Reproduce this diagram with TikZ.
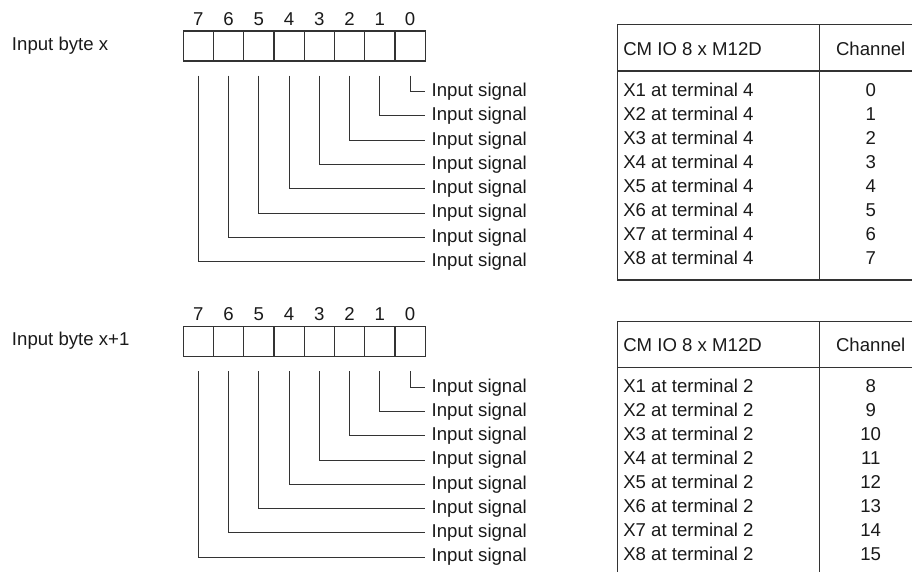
\documentclass[tikz,border=0pt]{standalone}
\usepackage{fontspec}
\setmainfont{Liberation Sans}
\definecolor{ln}{HTML}{333333}
\definecolor{txt}{HTML}{1A1A1A}
\tikzset{
  lbl/.style={inner sep=0pt,outer sep=0pt,font=\fontsize{18.6}{22}\selectfont,text=txt},
  cellbox/.style={draw=ln,line width=1.1pt,minimum width=30.25pt,minimum height=30pt,inner sep=0pt},
  wire/.style={draw=ln,line width=1pt},
  tab/.style={draw=ln,line width=1.2pt}
}
\newcommand\bytesection[3]{% #1 prefix, #2 y offset of byte, #3 label
  \begin{scope}[shift={(0,#2)}]
    \node[lbl,anchor=base west] (#1lab) at (12,50) {#3};
    \foreach \i in {0,...,7}{
      \pgfmathtruncatemacro\bit{7-\i}
      \node[cellbox] (#1c\bit) at (198.4+30.25*\i,46) {};
      \node[lbl,anchor=base] (#1d\bit) at (198.4+30.25*\i,25) {\bit};
    }
    \foreach \b in {0,...,7}{
      \node[lbl,anchor=base west] (#1s\b) at (431.7,96.5+24.28*\b) {Input signal};
      \draw[wire] ([yshift=-14pt]#1c\b.south) |- ([xshift=-6.7pt]#1s\b.west);
    }
  \end{scope}
}
\newcommand\tablesection[2]{% #1 prefix, #2 y offset
  \begin{scope}[shift={(0,#2)}]
    \draw[tab] (617.3,24.3) rectangle (940,280);
    \draw[tab] (617.3,71) -- (940,71);
    \draw[tab] (819.3,24.3) -- (819.3,280);
    \node[lbl,anchor=base west] (#1h1) at (623.3,55) {CM IO 8 x M12D};
    \node[lbl,anchor=base] (#1h2) at (870.7,55) {Channel};
  \end{scope}
}
\begin{document}
\begin{tikzpicture}[x=1pt,y=-1pt]
\useasboundingbox (0,0) rectangle (912,571);
\clip (0,0) rectangle (912,571);
\bytesection{a}{0}{Input byte x}
\bytesection{b}{295.5}{Input byte x+1}
\tablesection{ta}{0}
\tablesection{tb}{296.8}
\foreach \r in {0,...,7}{
  \pgfmathtruncatemacro\xn{\r+1}
  \pgfmathtruncatemacro\chb{\r+8}
  \node[lbl,anchor=base west] (tar\r) at (623.3,96+24*\r) {X\xn{} at terminal 4};
  \node[lbl,anchor=base] (tac\r) at (870.7,96+24*\r) {\r};
  \node[lbl,anchor=base west] (tbr\r) at (623.3,392.6+24.05*\r) {X\xn{} at terminal 2};
  \node[lbl,anchor=base] (tbc\r) at (870.7,392.6+24.05*\r) {\chb};
}
\end{tikzpicture}
\end{document}
